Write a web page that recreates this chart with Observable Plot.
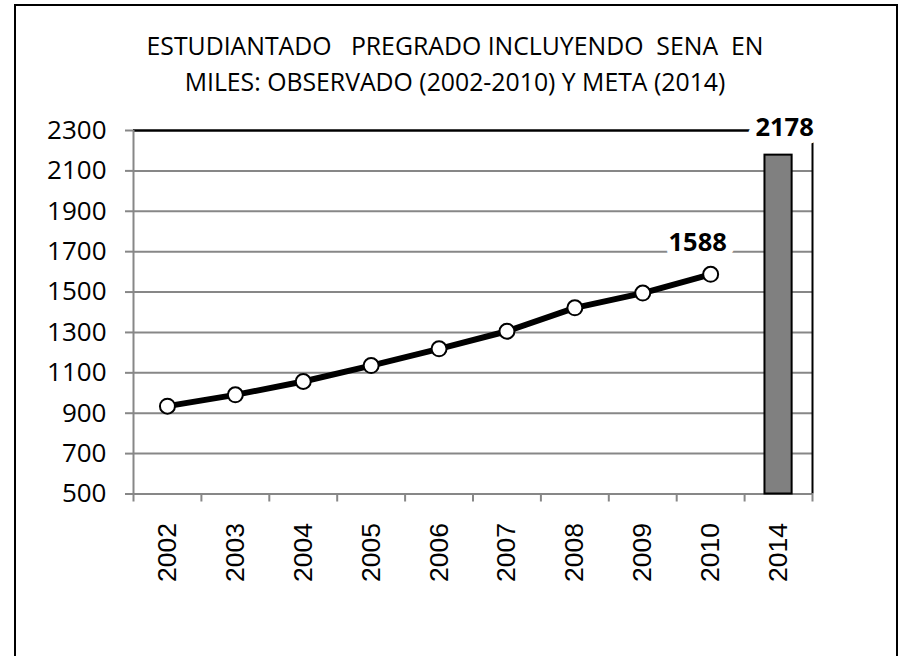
<!DOCTYPE html>
<html><head><meta charset="utf-8">
<script src="https://cdn.jsdelivr.net/npm/d3@7"></script>
<script src="https://cdn.jsdelivr.net/npm/@observablehq/plot@0.6"></script>
<style>
body{margin:0;background:#fff;}
#wrap{position:relative;width:899px;height:656px;overflow:hidden;background:#fff;}
#border{position:absolute;left:14px;top:4px;width:884px;height:680px;border:2px solid #000;box-sizing:border-box;}
#title{position:absolute;left:0;width:910px;top:27px;text-align:center;font-family:"Open Sans";font-size:24.8px;line-height:36px;white-space:pre;color:#000;}
#chart{position:absolute;left:0;top:100px;}
</style></head><body>
<div id="wrap"><div id="border"></div><div id="title">ESTUDIANTADO   PREGRADO INCLUYENDO  SENA  EN
MILES: OBSERVADO (2002-2010) Y META (2014)</div><div id="chart"></div></div>
<script>
const categories = ["2002","2003","2004","2005","2006","2007","2008","2009","2010","2014"];
const observedYears = ["2002","2003","2004","2005","2006","2007","2008","2009","2010"];
const observedValues = [935, 991, 1057, 1136, 1219, 1306, 1422, 1495, 1588];
const goalYears = ["2014"];
const goalValues = [2178];
const yTicks = [500, 700, 900, 1100, 1300, 1500, 1700, 1900, 2100, 2300];

const obs = observedYears.map((c, k) => ({cat: c, pos: categories.indexOf(c) + 0.5, value: observedValues[k]}));
const goal = goalYears.map((c, k) => ({cat: c, pos: categories.indexOf(c) + 0.5, value: goalValues[k]}));
const boundaries = d3.range(categories.length + 1);
const centers = categories.map((c, i) => i + 0.5);
const yMin = yTicks[0], yMax = yTicks[yTicks.length - 1];
const grey = "#878787";

const chart = Plot.plot({
  width: 899, height: 556,
  marginTop: 30, marginBottom: 162.5, marginLeft: 133, marginRight: 87,
  x: {type: "linear", domain: [0, categories.length]},
  y: {domain: [yMin, yMax]},
  style: {background: "transparent", fontFamily: "Open Sans"},
  marks: [
    Plot.ruleY(yTicks.filter(t => t < yMax), {stroke: grey, strokeWidth: 2}),
    Plot.ruleY([yMax], {stroke: "#000", strokeWidth: 2.5}),
    Plot.ruleX([0], {y1: yMin, y2: yMax, stroke: grey, strokeWidth: 2}),
    Plot.ruleX([categories.length], {y1: yMin, y2: yMax, stroke: "#000", strokeWidth: 2}),
    Plot.axisX(boundaries, {tickSize: 8, tickFormat: () => "", stroke: grey, strokeWidth: 2, label: null}),
    Plot.axisX(centers, {tickSize: 0, tickPadding: 29, tickRotate: -90, tickFormat: v => categories[Math.floor(v)],
      fontSize: 26.5, fontFamily: "Liberation Sans", fill: "#000", label: null}),
    Plot.axisY(yTicks, {tickSize: 8, tickPadding: 19, stroke: grey, strokeWidth: 2, fill: "#000", fontSize: 26,
      tickFormat: d => String(d), label: null}),
    Plot.rectY(goal, {x1: d => d.pos - 0.2, x2: d => d.pos + 0.2, y1: yMin, y2: "value", fill: "#808080", stroke: "#000", strokeWidth: 2}),
    Plot.line(obs, {x: "pos", y: "value", stroke: "#000", strokeWidth: 6}),
    Plot.dot(obs, {x: "pos", y: "value", r: 7.5, fill: "#fff", stroke: "#000", strokeWidth: 2}),
    Plot.text(obs.slice(-1), {x: "pos", y: "value", text: d => String(d.value), dy: -31, dx: -13,
      fontSize: 25.5, fontWeight: "bold", fill: "#000", stroke: "#fff", strokeWidth: 16, paintOrder: "stroke"}),
    Plot.text(goal, {x: "pos", y: "value", text: d => String(d.value), dy: -27, dx: 6,
      fontSize: 25.5, fontWeight: "bold", fill: "#000", stroke: "#fff", strokeWidth: 16, paintOrder: "stroke"})
  ]
});
document.getElementById("chart").appendChild(chart);
</script>
</body></html>
